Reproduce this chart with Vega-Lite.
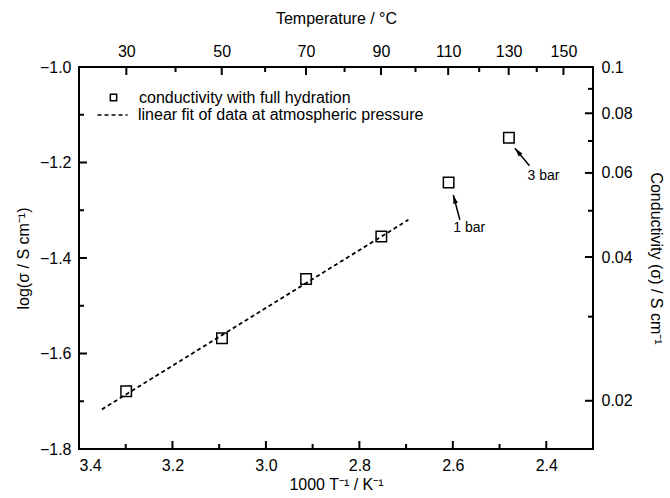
{
  "$schema": "https://vega.github.io/schema/vega-lite/v6.json",
  "width": 514,
  "height": 382,
  "autosize": {"type": "none"},
  "padding": {"left": 79, "top": 67, "right": 77, "bottom": 49},
  "background": "white",
  "config": {
    "view": {"stroke": "black", "strokeWidth": 2},
    "font": "Liberation Sans",
    "axis": {
      "domain": false, "grid": false, "ticks": false,
      "labelColor": "black", "titleColor": "black",
      "labelFont": "Liberation Sans", "titleFont": "Liberation Sans",
      "labelFontSize": 16, "titleFontSize": 16, "titleFontWeight": "normal",
      "labelPadding": 8
    },
    "legend": {"labelFont": "Liberation Sans", "labelFontSize": 16, "labelColor": "black", "padding": 0, "labelLimit": 0}
  },
  "datasets": {
    "meas": [
      {"T": 30, "invT": 3.299, "logs": -1.679, "series": "conductivity with full hydration"},
      {"T": 50, "invT": 3.094, "logs": -1.568, "series": "conductivity with full hydration"},
      {"T": 70, "invT": 2.914, "logs": -1.444, "series": "conductivity with full hydration"},
      {"T": 90, "invT": 2.753, "logs": -1.355, "series": "conductivity with full hydration"},
      {"T": 110, "invT": 2.609, "logs": -1.242, "series": "conductivity with full hydration"},
      {"T": 130, "invT": 2.480, "logs": -1.148, "series": "conductivity with full hydration"}
    ],
    "fit": [
      {"invT": 3.351, "logs": -1.717, "series": "linear fit of data at atmospheric pressure"},
      {"invT": 2.695, "logs": -1.320, "series": "linear fit of data at atmospheric pressure"}
    ],
    "notes": [
      {"label": "1 bar", "tailX": 2.585, "tailY": -1.320, "headX": 2.599, "headY": -1.268, "textX": 2.565, "textY": -1.338},
      {"label": "3 bar", "tailX": 2.436, "tailY": -1.207, "headX": 2.467, "headY": -1.170, "textX": 2.406, "textY": -1.228}
    ],
    "xMajor": [{"v": 3.4}, {"v": 3.2}, {"v": 3.0}, {"v": 2.8}, {"v": 2.6}, {"v": 2.4}],
    "xMinor": [{"v": 3.3}, {"v": 3.1}, {"v": 2.9}, {"v": 2.7}, {"v": 2.5}],
    "tMajor": [{"T": 30, "v": 3.2987}, {"T": 50, "v": 3.09454}, {"T": 70, "v": 2.91418}, {"T": 90, "v": 2.75368}, {"T": 110, "v": 2.60994}, {"T": 130, "v": 2.48047}, {"T": 150, "v": 2.36323}],
    "tMinor": [{"T": 40, "v": 3.19336}, {"T": 60, "v": 3.00165}, {"T": 80, "v": 2.83166}, {"T": 100, "v": 2.67989}, {"T": 120, "v": 2.54356}, {"T": 140, "v": 2.42043}],
    "yMajor": [{"v": -1.8}, {"v": -1.6}, {"v": -1.4}, {"v": -1.2}, {"v": -1.0}],
    "yMinor": [{"v": -1.7}, {"v": -1.5}, {"v": -1.3}, {"v": -1.1}],
    "cMajor": [{"s": 0.02, "v": -1.69897}, {"s": 0.04, "v": -1.39794}, {"s": 0.06, "v": -1.22185}, {"s": 0.08, "v": -1.09691}, {"s": 0.1, "v": -1.0}],
    "cMinor": [{"s": 0.03, "v": -1.52288}, {"s": 0.05, "v": -1.30103}, {"s": 0.07, "v": -1.1549}, {"s": 0.09, "v": -1.04576}]
  },
  "resolve": {"axis": {"x": "independent", "y": "independent"}},
  "layer": [
    {
      "data": {"name": "fit"},
      "mark": {"type": "line", "color": "black", "strokeWidth": 1.8},
      "encoding": {
        "x": {"field": "invT", "type": "quantitative",
          "scale": {"domain": [2.3, 3.4], "reverse": true, "nice": false, "zero": false},
          "axis": {"orient": "bottom", "values": [3.4, 3.2, 3.0, 2.8, 2.6, 2.4], "format": ".1f", "titlePadding": 3, "title": "1000 T⁻¹ / K⁻¹"}},
        "y": {"field": "logs", "type": "quantitative",
          "scale": {"domain": [-1.8, -1.0], "nice": false, "zero": false},
          "axis": {"orient": "left", "values": [-1.8, -1.6, -1.4, -1.2, -1.0], "format": ".1f", "titlePadding": 8, "title": "log(σ / S cm⁻¹)"}},
        "strokeDash": {"field": "series", "type": "nominal",
          "scale": {"domain": ["linear fit of data at atmospheric pressure"], "range": [[4, 3]]},
          "legend": {"title": null, "orient": "none", "legendX": 17.5, "legendY": 32, "symbolSize": 900, "symbolStrokeWidth": 1.5, "symbolStrokeColor": "black", "labelOffset": 9.5}}
      }
    },
    {
      "data": {"name": "meas"},
      "mark": {"type": "point", "filled": false, "color": "black", "size": 110, "strokeWidth": 1.5, "opacity": 1},
      "encoding": {
        "x": {"field": "invT", "type": "quantitative",
          "scale": {"domain": [2.3, 3.4], "reverse": true, "nice": false, "zero": false},
          "axis": {"orient": "top", "values": [3.2987, 3.09454, 2.91418, 2.75368, 2.60994, 2.48047, 2.36323], "labelExpr": "format(1000 / datum.value - 273.15, '.0f')", "titlePadding": 17, "title": "Temperature / °C"}},
        "y": {"field": "logs", "type": "quantitative",
          "scale": {"domain": [-1.8, -1.0], "nice": false, "zero": false},
          "axis": {"orient": "right", "values": [-1.69897, -1.39794, -1.22185, -1.09691, -1.0], "labelExpr": "format(pow(10, datum.value), '.2~f')", "titlePadding": 15, "title": "Conductivity (σ) / S cm⁻¹"}},
        "shape": {"field": "series", "type": "nominal",
          "scale": {"domain": ["conductivity with full hydration"], "range": ["square"]},
          "legend": {"title": null, "orient": "none", "legendX": 26.5, "legendY": 22.5, "symbolSize": 40, "symbolStrokeWidth": 1.5, "symbolStrokeColor": "black", "labelOffset": 17.5}}
      }
    },
    {
      "data": {"name": "notes"},
      "mark": {"type": "rule", "color": "black", "strokeWidth": 1.5},
      "encoding": {
        "x": {"field": "tailX", "type": "quantitative", "scale": {"domain": [2.3, 3.4], "reverse": true, "nice": false, "zero": false}, "axis": null},
        "y": {"field": "tailY", "type": "quantitative", "scale": {"domain": [-1.8, -1.0], "nice": false, "zero": false}, "axis": null},
        "x2": {"field": "headX"},
        "y2": {"field": "headY"}
      }
    },
    {
      "data": {"name": "notes"},
      "transform": [{"filter": "datum.label === '1 bar'"}],
      "mark": {"type": "point", "shape": "M0,0L0.6,2.2L-0.6,2.2Z", "filled": true, "color": "black", "size": 64, "angle": 345, "opacity": 1},
      "encoding": {
        "x": {"field": "headX", "type": "quantitative", "scale": {"domain": [2.3, 3.4], "reverse": true, "nice": false, "zero": false}, "axis": null},
        "y": {"field": "headY", "type": "quantitative", "scale": {"domain": [-1.8, -1.0], "nice": false, "zero": false}, "axis": null}
      }
    },
    {
      "data": {"name": "notes"},
      "transform": [{"filter": "datum.label === '3 bar'"}],
      "mark": {"type": "point", "shape": "M0,0L0.6,2.2L-0.6,2.2Z", "filled": true, "color": "black", "size": 64, "angle": 320.6, "opacity": 1},
      "encoding": {
        "x": {"field": "headX", "type": "quantitative", "scale": {"domain": [2.3, 3.4], "reverse": true, "nice": false, "zero": false}, "axis": null},
        "y": {"field": "headY", "type": "quantitative", "scale": {"domain": [-1.8, -1.0], "nice": false, "zero": false}, "axis": null}
      }
    },
    {
      "data": {"name": "notes"},
      "mark": {"type": "text", "font": "Liberation Sans", "fontSize": 14, "color": "black", "align": "center", "baseline": "middle"},
      "encoding": {
        "x": {"field": "textX", "type": "quantitative", "scale": {"domain": [2.3, 3.4], "reverse": true, "nice": false, "zero": false}, "axis": null},
        "y": {"field": "textY", "type": "quantitative", "scale": {"domain": [-1.8, -1.0], "nice": false, "zero": false}, "axis": null},
        "text": {"field": "label"}
      }
    },
    {
      "data": {"name": "xMajor"},
      "mark": {"type": "rule", "color": "black", "strokeWidth": 2},
      "encoding": {
        "x": {"field": "v", "type": "quantitative", "scale": {"domain": [2.3, 3.4], "reverse": true, "nice": false, "zero": false}, "axis": null},
        "y": {"datum": -1.8, "type": "quantitative", "scale": {"domain": [-1.8, -1.0], "nice": false, "zero": false}, "axis": null},
        "y2": {"datum": -1.7832}
      }
    },
    {
      "data": {"name": "xMinor"},
      "mark": {"type": "rule", "color": "black", "strokeWidth": 2},
      "encoding": {
        "x": {"field": "v", "type": "quantitative", "scale": {"domain": [2.3, 3.4], "reverse": true, "nice": false, "zero": false}, "axis": null},
        "y": {"datum": -1.8, "type": "quantitative", "scale": {"domain": [-1.8, -1.0], "nice": false, "zero": false}, "axis": null},
        "y2": {"datum": -1.7895}
      }
    },
    {
      "data": {"name": "tMajor"},
      "mark": {"type": "rule", "color": "black", "strokeWidth": 2},
      "encoding": {
        "x": {"field": "v", "type": "quantitative", "scale": {"domain": [2.3, 3.4], "reverse": true, "nice": false, "zero": false}, "axis": null},
        "y": {"datum": -1.0, "type": "quantitative", "scale": {"domain": [-1.8, -1.0], "nice": false, "zero": false}, "axis": null},
        "y2": {"datum": -1.0168}
      }
    },
    {
      "data": {"name": "tMinor"},
      "mark": {"type": "rule", "color": "black", "strokeWidth": 2},
      "encoding": {
        "x": {"field": "v", "type": "quantitative", "scale": {"domain": [2.3, 3.4], "reverse": true, "nice": false, "zero": false}, "axis": null},
        "y": {"datum": -1.0, "type": "quantitative", "scale": {"domain": [-1.8, -1.0], "nice": false, "zero": false}, "axis": null},
        "y2": {"datum": -1.0105}
      }
    },
    {
      "data": {"name": "yMajor"},
      "mark": {"type": "rule", "color": "black", "strokeWidth": 2},
      "encoding": {
        "x": {"datum": 3.4, "type": "quantitative", "scale": {"domain": [2.3, 3.4], "reverse": true, "nice": false, "zero": false}, "axis": null},
        "x2": {"datum": 3.3829},
        "y": {"field": "v", "type": "quantitative", "scale": {"domain": [-1.8, -1.0], "nice": false, "zero": false}, "axis": null}
      }
    },
    {
      "data": {"name": "yMinor"},
      "mark": {"type": "rule", "color": "black", "strokeWidth": 2},
      "encoding": {
        "x": {"datum": 3.4, "type": "quantitative", "scale": {"domain": [2.3, 3.4], "reverse": true, "nice": false, "zero": false}, "axis": null},
        "x2": {"datum": 3.3893},
        "y": {"field": "v", "type": "quantitative", "scale": {"domain": [-1.8, -1.0], "nice": false, "zero": false}, "axis": null}
      }
    },
    {
      "data": {"name": "cMajor"},
      "mark": {"type": "rule", "color": "black", "strokeWidth": 2},
      "encoding": {
        "x": {"datum": 2.3, "type": "quantitative", "scale": {"domain": [2.3, 3.4], "reverse": true, "nice": false, "zero": false}, "axis": null},
        "x2": {"datum": 2.3171},
        "y": {"field": "v", "type": "quantitative", "scale": {"domain": [-1.8, -1.0], "nice": false, "zero": false}, "axis": null}
      }
    },
    {
      "data": {"name": "cMinor"},
      "mark": {"type": "rule", "color": "black", "strokeWidth": 2},
      "encoding": {
        "x": {"datum": 2.3, "type": "quantitative", "scale": {"domain": [2.3, 3.4], "reverse": true, "nice": false, "zero": false}, "axis": null},
        "x2": {"datum": 2.3107},
        "y": {"field": "v", "type": "quantitative", "scale": {"domain": [-1.8, -1.0], "nice": false, "zero": false}, "axis": null}
      }
    }
  ]
}
